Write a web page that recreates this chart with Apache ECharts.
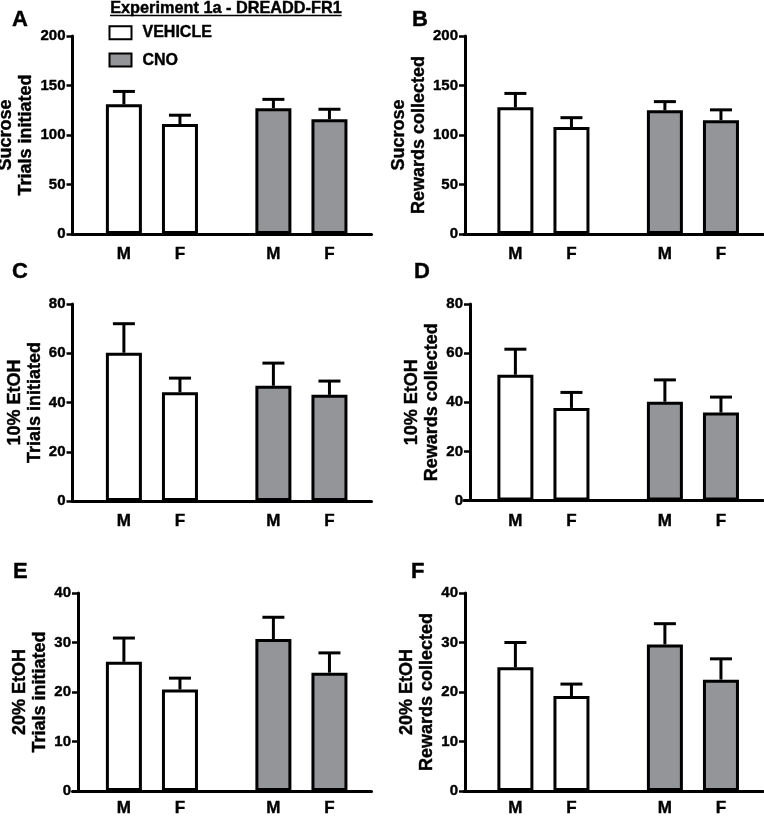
<!DOCTYPE html>
<html><head><meta charset="utf-8">
<script src="https://cdn.jsdelivr.net/npm/echarts@6/dist/echarts.min.js"></script>
<style>html,body{margin:0;padding:0;background:#fff}#c{width:764px;height:816px}</style>
</head><body><div id="c"></div>
<script>
// ---------------- DATA ----------------
const sexes = ['M', 'F'];
const groups = ['VEHICLE', 'CNO'];
// order of values: VEHICLE-M, VEHICLE-F, CNO-M, CNO-F
const sucroseTrialsMean   = [131, 111, 127, 116];
const sucroseTrialsSem    = [13, 9, 9, 10];
const sucroseRewardsMean  = [128, 108, 125, 115];
const sucroseRewardsSem   = [14, 9.5, 8.7, 10.4];
const etoh10TrialsMean    = [60.2, 44.2, 46.8, 43.1];
const etoh10TrialsSem     = [11.8, 5.7, 9.2, 5.6];
const etoh10RewardsMean   = [51.2, 37.7, 40.2, 35.8];
const etoh10RewardsSem    = [10.4, 6.3, 8.9, 6.3];
const etoh20TrialsMean    = [26.1, 20.5, 30.7, 23.9];
const etoh20TrialsSem     = [4.8, 2.3, 4.4, 4.0];
const etoh20RewardsMean   = [25.0, 19.2, 29.6, 22.5];
const etoh20RewardsSem    = [5.0, 2.4, 4.2, 4.2];
const yMaxes     = [200, 200, 80, 80, 40, 40];
const yIntervals = [50, 50, 20, 20, 10, 10];
const panelLetters = ['A', 'B', 'C', 'D', 'E', 'F'];
const yTitles = [
  ['Sucrose', 'Trials initiated'], ['Sucrose', 'Rewards collected'],
  ['10% EtOH', 'Trials initiated'], ['10% EtOH', 'Rewards collected'],
  ['20% EtOH', 'Trials initiated'], ['20% EtOH', 'Rewards collected']
];
const figureTitle = 'Experiment 1a - DREADD-FR1';

const means = [sucroseTrialsMean, sucroseRewardsMean, etoh10TrialsMean, etoh10RewardsMean, etoh20TrialsMean, etoh20RewardsMean];
const sems  = [sucroseTrialsSem, sucroseRewardsSem, etoh10TrialsSem, etoh10RewardsSem, etoh20TrialsSem, etoh20RewardsSem];

// ---------------- LAYOUT ----------------
const FONT = 'Liberation Sans, Arial, Helvetica, sans-serif';
const STROKE = {textBorderColor: '#000', textBorderWidth: 0.4};
const SLOT_COUNT = 32;              // fine category slots to reproduce group spacing
const barSlots = [5, 11, 21, 27];   // slots holding M, F | M, F
const layouts = [
  {left: 72.5, top: 36,  height: 198,   width: 299, offset: 0,    nameGap: 25, lx: 12,  ly: 9,   lm: 12},
  {left: 464,  top: 36,  height: 198,   width: 299, offset: -1,   nameGap: 29, lx: 412, ly: 9,   lm: 12},
  {left: 72.5, top: 304, height: 197,   width: 299, offset: 0,    nameGap: 18, lx: 12,  ly: 261, lm: 12},
  {left: 464,  top: 304, height: 196.5, width: 299, offset: -6,   nameGap: 25, lx: 414, ly: 261, lm: 12},
  {left: 72.5, top: 593, height: 198,   width: 299, offset: -5.5, nameGap: 24, lx: 13,  ly: 561, lm: 9},
  {left: 464,  top: 593, height: 198,   width: 299, offset: -1,   nameGap: 23, lx: 411, ly: 561, lm: 9}
];
const GRAY = '#939598';

const slotCats = Array.from({length: SLOT_COUNT}, (_, i) => {
  const k = barSlots.indexOf(i);
  return k < 0 ? '' : sexes[k % 2];
});
const isBarSlot = (idx) => barSlots.indexOf(idx) >= 0;

const grid = [], xAxis = [], yAxis = [], series = [], title = [];

layouts.forEach((L, p) => {
  grid.push({left: L.left, top: L.top, width: L.width, height: L.height, containLabel: false, outerBoundsMode: 'none'});
  xAxis.push({
    type: 'category', gridIndex: p, data: slotCats, boundaryGap: true,
    axisLine: {lineStyle: {color: '#000', width: 3}},
    axisTick: {alignWithLabel: true, interval: isBarSlot, length: 6, lineStyle: {color: '#000', width: 3}},
    axisLabel: Object.assign({interval: isBarSlot, fontSize: 17, fontWeight: 'bold', color: '#000', margin: L.lm, fontFamily: FONT}, STROKE),
    splitLine: {show: false}
  });
  yAxis.push({
    type: 'value', gridIndex: p, min: 0, max: yMaxes[p], interval: yIntervals[p], offset: L.offset,
    axisLine: {show: true, lineStyle: {color: '#000', width: 3}},
    axisTick: {show: true, length: 6, lineStyle: {color: '#000', width: 2.5}},
    axisLabel: Object.assign({fontSize: 15, fontWeight: 'bold', color: '#000', margin: 7, fontFamily: FONT}, STROKE),
    splitLine: {show: false},
    name: yTitles[p].join('\n'), nameLocation: 'middle', nameGap: L.nameGap,
    nameTextStyle: Object.assign({fontSize: 18, fontWeight: 'bold', color: '#000', lineHeight: 20, fontFamily: FONT}, STROKE)
  });
  groups.forEach((g, gi) => {
    series.push({
      type: 'bar', name: g, xAxisIndex: p, yAxisIndex: p,
      barWidth: 36, barGap: '-100%',
      itemStyle: {color: gi === 0 ? '#ffffff' : GRAY, borderColor: '#000', borderWidth: 3},
      emphasis: {disabled: true},
      data: slotCats.map((_, i) => {
        const k = barSlots.indexOf(i);
        return (k >= 0 && Math.floor(k / 2) === gi) ? means[p][k] : '-';
      }),
      z: 2
    });
  });
  series.push({
    type: 'custom', name: 'SEM', xAxisIndex: p, yAxisIndex: p, z: 3,
    data: barSlots.map((s, k) => [s, means[p][k], means[p][k] + sems[p][k]]),
    renderItem: (params, api) => {
      const a = api.coord([api.value(0), api.value(1)]);
      const b = api.coord([api.value(0), api.value(2)]);
      const half = 11;
      return {type: 'group', children: [
        {type: 'line', shape: {x1: a[0], y1: a[1], x2: b[0], y2: b[1]}, style: {stroke: '#000', lineWidth: 3}},
        {type: 'line', shape: {x1: b[0] - half, y1: b[1], x2: b[0] + half, y2: b[1]}, style: {stroke: '#000', lineWidth: 3}}
      ]};
    }
  });
  title.push({text: panelLetters[p], left: L.lx, top: L.ly, padding: 0,
    textStyle: Object.assign({fontSize: 22, fontWeight: 'bold', color: '#000', fontFamily: FONT}, STROKE)});
});

// underline width for figure title
const cv = document.createElement('canvas').getContext('2d');
cv.font = 'bold 16.3px ' + FONT;
const tw = cv.measureText(figureTitle).width;
const TX = 110, TY = 0;

const chart = echarts.init(document.getElementById('c'), null, {renderer: 'canvas'});
chart.setOption({
  animation: false,
  backgroundColor: '#fff',
  title: title,
  legend: {
    data: groups, orient: 'vertical', left: 108.5, top: 24.5, icon: 'rect',
    itemWidth: 22, itemHeight: 13, itemGap: 11, selectedMode: false, padding: 0,
    textStyle: Object.assign({fontSize: 16, fontWeight: 'bold', color: '#000', fontFamily: FONT, padding: [0, 0, 0, 6]}, STROKE)
  },
  graphic: [
    {type: 'text', left: TX, top: TY, style: {text: figureTitle, font: 'bold 16.3px ' + FONT, fill: '#000', stroke: '#000', lineWidth: 0.4}},
    {type: 'line', shape: {x1: TX, y1: 15.5, x2: TX + tw, y2: 15.5}, style: {stroke: '#000', lineWidth: 1.5}}
  ],
  grid: grid, xAxis: xAxis, yAxis: yAxis, series: series
});
</script></body></html>
